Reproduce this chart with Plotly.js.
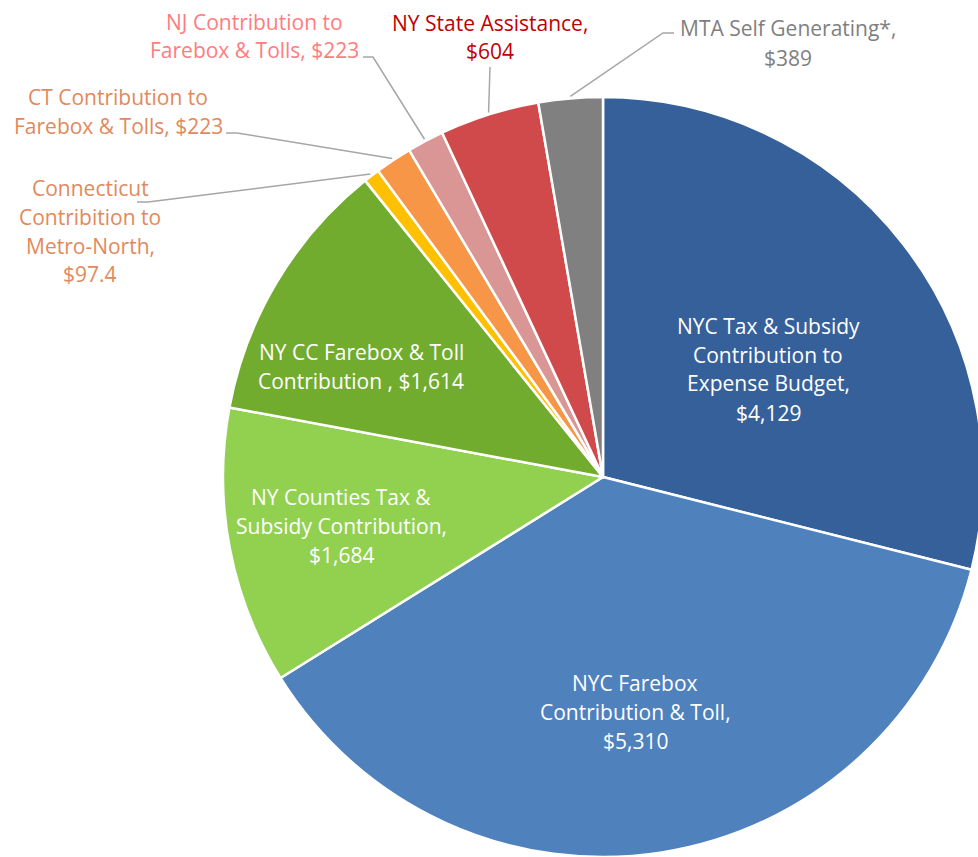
<!DOCTYPE html>
<html>
<head>
<meta charset="utf-8">
<script src="https://cdn.plot.ly/plotly-3.0.1.min.js"></script>
<style>
html,body{margin:0;padding:0;overflow:hidden;background:#fff;}
#chart{width:1000px;height:857px;}
</style>
</head>
<body>
<div id="chart"></div>
<script>
// ---- data ----
const categories = [
  "NYC Tax & Subsidy Contribution to Expense Budget",
  "NYC Farebox Contribution & Toll",
  "NY Counties Tax & Subsidy Contribution",
  "NY CC Farebox & Toll Contribution",
  "Connecticut Contribition to Metro-North",
  "CT Contribution to Farebox & Tolls",
  "NJ Contribution to Farebox & Tolls",
  "NY State Assistance",
  "MTA Self Generating*"
];
const values = [4129, 5310, 1684, 1614, 97.4, 223, 223, 604, 389];
const labelLines = [
  ["NYC Tax & Subsidy", "Contribution to", "Expense Budget,", "$4,129"],
  ["NYC Farebox", "Contribution & Toll,", "$5,310"],
  ["NY Counties Tax &", "Subsidy Contribution,", "$1,684"],
  ["NY CC Farebox & Toll", "Contribution , $1,614"],
  ["Connecticut", "Contribition to", "Metro-North,", "$97.4"],
  ["CT Contribution to", "Farebox & Tolls, $223"],
  ["NJ Contribution to", "Farebox & Tolls, $223"],
  ["NY State Assistance,", "$604"],
  ["MTA Self Generating*,", "$389"]
];

// ---- styles / layout ----
const sliceColors = ["#36609A","#4F81BD","#92D050","#71AC2F","#FFC000","#F79646","#D99694","#D14A4B","#808080"];
const labelColors = ["#FFFFFF","#FFFFFF","#FFFFFF","#FFFFFF","#E2895C","#E2895C","#FF7C80","#C00000","#7F7F7F"];
// label centre (px) for each category
const labelPos = [[768,369],[635,712],[341,526],[361,366],[90,231],[118,111],[254,36],[490,37],[788,43]];
// leader lines: [anchor near text, bend] in px (null = inside label)
const leaders = [null,null,null,null,
  [[137,202],[148,202]],
  [[226,133],[237,133]],
  [[363,57],[373,57]],
  [[490,67],null],
  [[674,33],[663,33]]
];

const W = 1000, H = 857;
const cx = 603, cy = 477, R = 380;
const FONT = "'Open Sans', 'Noto Sans', sans-serif";
const FS = 21, LH = 29;

const px2x = p => p / W;
const py2y = p => 1 - p / H;

const total = values.reduce((a,b)=>a+b,0);
let cum = 0;
const annotations = [];
const shapes = [];
values.forEach((v,i)=>{
  const mid = (cum + v/2) / total * 2*Math.PI;
  cum += v;
  const lines = labelLines[i];
  const [lx, ly] = labelPos[i];
  const n = lines.length;
  lines.forEach((t,k)=>{
    annotations.push({
      x: px2x(lx), y: py2y(ly + (k - (n-1)/2)*LH),
      xref:'paper', yref:'paper', text: t, showarrow:false,
      xanchor:'center', yanchor:'middle',
      font:{family:FONT, size:FS, color:labelColors[i]}
    });
  });
  if (leaders[i]) {
    const ex = cx + (R+2)*Math.sin(mid), ey = cy - (R+2)*Math.cos(mid);
    const pts = [leaders[i][0]];
    if (leaders[i][1]) pts.push(leaders[i][1]);
    pts.push([ex,ey]);
    const path = pts.map((p,j)=>(j?'L ':'M ')+px2x(p[0]).toFixed(5)+' '+py2y(p[1]).toFixed(5)).join(' ');
    shapes.push({type:'path', xref:'paper', yref:'paper', path, line:{color:'#A6A6A6', width:1.5}});
  }
});

const trace = {
  type:'pie',
  labels: categories,
  values: values,
  sort:false,
  direction:'clockwise',
  rotation:0,
  textinfo:'none',
  hoverinfo:'label+value',
  marker:{colors:sliceColors, line:{color:'#FFFFFF', width:2.5}},
  domain:{x:[(cx-R)/W,(cx+R)/W], y:[(H-cy-R)/H,(H-cy+R)/H]},
  showlegend:false
};

const layout = {
  width:W, height:H,
  margin:{l:0,r:0,t:0,b:0},
  paper_bgcolor:'#FFFFFF',
  showlegend:false,
  annotations, shapes
};
Plotly.newPlot('chart',[trace],layout,{displayModeBar:false, staticPlot:true});
</script>
</body>
</html>
